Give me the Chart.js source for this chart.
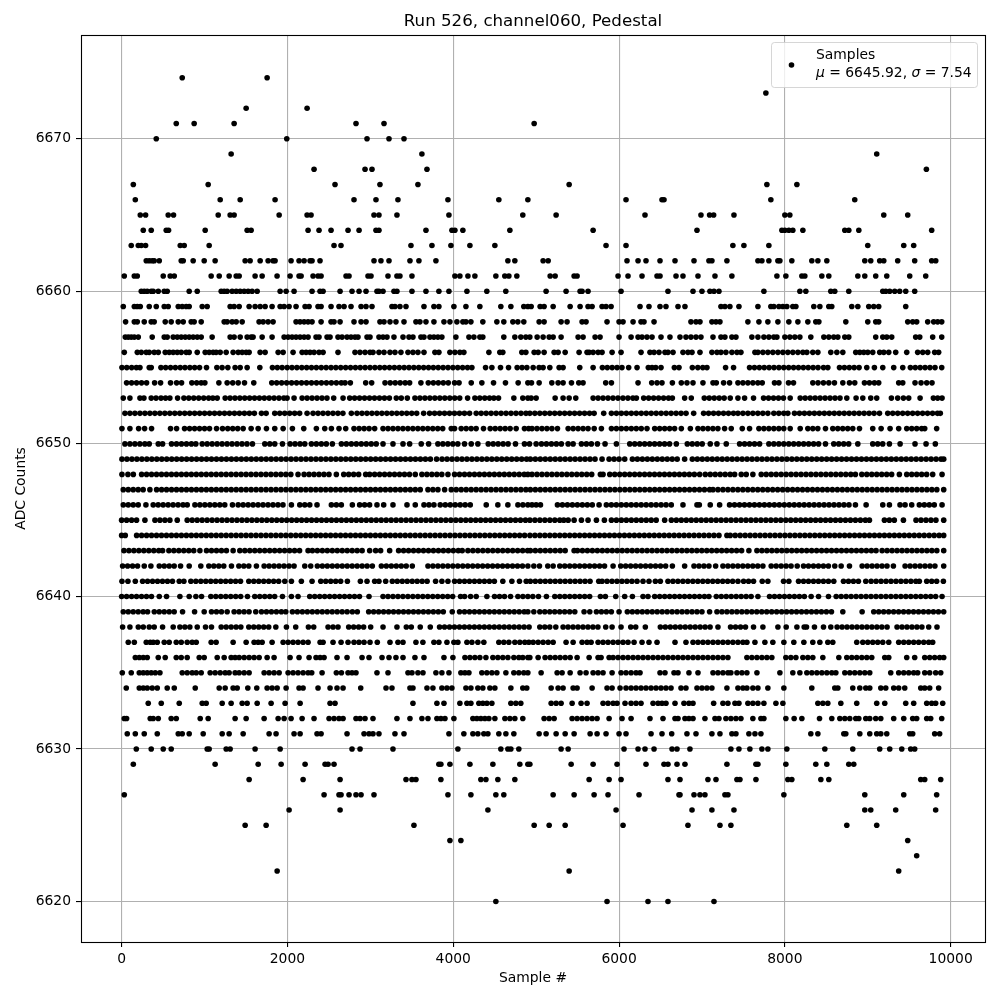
<!DOCTYPE html>
<html><head><meta charset="utf-8">
<style>html,body{margin:0;padding:0;background:#fff}#w{width:1000px;height:1000px;position:relative}</style>
<script src="https://cdn.jsdelivr.net/npm/chart.js@4"></script>
</head><body><div id="w"><canvas id="c" width="1000" height="1000"></canvas></div>
<script>
const chartTitle = "Run 526, channel060, Pedestal";
const xLabel = "Sample #";
const yLabel = "ADC Counts";
const xTicks = [0,2000,4000,6000,8000,10000];
const yTicks = [6620,6630,6640,6650,6660,6670];
const r6674=[731,1755];
const r6673=[7771];
const r6672=[1502,2237];
const r6671=[659,875,1357,2827,3165,4976];
const r6670=[418,1992,2960,3225,3406];
const r6669=[1321,3622,9108];
const r6668=[2321,2936,3020,3683,9707];
const r6667=[141,1044,2574,3116,3574,5398,7783,8145];
const r6666=[165,1189,1430,1851,2803,3068,3333,3936,4550,4900,6084,6518,6542,7831,8843];
const r6665=[225,289,562,626,1165,1309,1357,1900,2237,2285,3044,3104,3321,3948,4839,5241,6313,6988,7092,7141,7386,8000,8060,9193,9482];
const r6664=[261,357,538,566,1008,1514,1562,2249,2381,2526,2731,2864,3068,3104,3671,3984,4020,4116,4683,5687,6940,7964,8000,8048,8096,8217,8723,8771,8892,9771];
const r6663=[116,201,237,289,707,755,1056,2562,2646,3490,3743,3972,4201,4502,5843,6084,7373,7506,7807,9000,9434,9554];
const r6662=[297,333,369,393,454,719,743,863,996,1128,1490,1550,1671,1767,1827,1851,2044,2140,2201,2273,2297,2393,3044,3128,3225,3478,3586,3791,4659,4743,5084,5145,6096,6229,6325,6494,6675,6904,7084,7120,7301,7675,7723,7807,7916,7940,8084,8325,8398,8506,8964,9036,9144,9193,9361,9566,9771,9820];
const r6661=[32,153,189,502,586,635,1080,1177,1297,1382,1418,1610,1695,1875,2032,2140,2165,2309,2369,2406,2707,2743,2972,3008,3213,3321,3357,3502,4020,4080,4177,4261,4514,4622,4671,4767,5169,5229,5458,5494,5988,6108,6277,6458,6494,6687,6771,6952,7157,7361,7904,8012,8205,8241,8446,8530,8880,8964,9096,9229,9506,9699];
const r6660=[237,273,309,357,381,442,514,550,815,912,1201,1237,1273,1333,1382,1430,1478,1526,1574,1635,1912,1984,2080,2297,2393,2430,2635,2779,2864,2948,3080,3104,3153,3285,3321,3502,3671,3827,3948,4165,4405,4634,5120,5361,5530,5554,5626,6024,6590,6892,7000,7096,7145,7205,7747,8181,8253,8554,8602,8771,9181,9217,9265,9325,9385,9458,9566];
const r6659=[20,153,189,225,333,418,514,562,683,731,779,815,972,1032,1309,1357,1418,1538,1610,1671,1731,1815,1912,1960,2020,2104,2213,2261,2369,2406,2526,2622,2683,2767,2888,2948,3020,3261,3297,3357,3430,3647,3767,3827,4008,4153,4321,4574,4695,4851,4900,4940,5048,5096,5205,5410,5530,5626,5675,5795,5843,5904,6253,6361,6494,6566,6711,6795,7229,7277,7337,7446,7675,7831,7867,7928,7976,8024,8096,8133,8349,8422,8530,8566,8807,8880,9012,9072,9132,9458];
const r6658=[48,153,189,273,357,393,526,598,683,743,839,875,960,1237,1273,1333,1382,1454,1658,1707,1767,1827,2104,2152,2201,2249,2297,2406,2526,2562,2635,2803,2888,2948,3116,3165,3237,3309,3406,3550,3598,3671,3767,3888,3960,4044,4116,4153,4213,4357,4526,4610,4719,4779,4851,5036,5096,5301,5373,5554,5602,5855,6000,6048,6169,6265,6301,6422,6867,6928,6976,7120,7169,7217,7554,7687,7795,7916,8048,8157,8277,8373,8410,8735,9000,9096,9132,9482,9542,9590,9723,9795,9843,9892];
const r6657=[44,80,116,153,201,369,514,550,622,671,719,767,815,863,912,960,1092,1309,1357,1430,1514,1562,1586,1695,1815,1960,2008,2056,2104,2152,2201,2249,2345,2381,2478,2514,2610,2659,2719,2767,2815,2851,2960,2996,3104,3153,3201,3285,3394,3466,3514,3610,3647,3719,3767,3815,3863,4032,4189,4249,4321,4357,4610,4743,4815,4876,4924,5012,5084,5157,5205,5301,5506,5566,5711,5771,6000,6145,6229,6277,6337,6398,6506,6614,6735,6807,6867,6928,6988,7133,7229,7277,7361,7410,7602,7675,7747,7807,7867,7904,8000,8060,8120,8181,8313,8470,8530,8590,8639,8723,8771,9096,9181,9229,9289,9578,9627,9783,9892];
const r6656=[32,189,237,297,333,393,442,526,574,622,671,719,779,815,912,1008,1056,1104,1140,1189,1261,1345,1406,1454,1502,1538,1671,1731,1888,1948,2068,2177,2225,2273,2321,2381,2430,2610,2815,2875,2936,2996,3032,3104,3165,3237,3297,3369,3454,3514,3574,3647,3779,3827,3960,4020,4080,4128,4430,4562,4598,4827,4876,4976,5024,5096,5217,5265,5350,5518,5614,5639,5687,5747,5795,5916,6024,6265,6373,6422,6482,6554,6590,6651,6771,6831,6880,6976,7120,7181,7229,7289,7361,7422,7470,7639,7675,7735,7795,7855,7916,7976,8036,8096,8157,8217,8265,8337,8398,8554,8627,8699,8855,8904,8952,9000,9060,9144,9193,9253,9337,9470,9602,9663,9723,9807,9855];
const r6655=[4,62,121,178,221,333,357,474,531,590,648,707,764,823,881,940,1024,1149,1212,1281,1369,1430,1514,1667,1819,1878,1936,1997,2055,2114,2173,2232,2290,2349,2408,2467,2526,2584,2643,2702,2761,2820,2878,2937,2996,3055,3114,3172,3231,3290,3349,3408,3466,3525,3584,3643,3702,3760,3819,3878,3937,3996,4054,4113,4172,4225,4390,4466,4570,4667,4771,4830,4888,4964,5036,5084,5165,5277,5325,5526,5687,5799,5858,5917,5976,6035,6116,6217,6353,6398,6442,6506,6667,6723,6884,6950,7010,7060,7285,7381,7574,7633,7692,7751,7810,7869,7928,7987,8046,8105,8164,8223,8282,8341,8400,8466,8518,8659,8718,8777,8836,8895,8988,9080,9181,9313,9422,9514,9573,9632,9691,9750,9811,9892];
const r6654=[60,120,180,240,301,398,470,590,663,723,847,905,960,1004,1173,1273,1340,1406,1482,1594,1811,1870,1930,1990,2050,2110,2170,2230,2290,2350,2410,2470,2530,2590,2650,2695,2759,2944,3016,3177,3240,3300,3360,3420,3474,3610,3699,3760,3820,3880,3940,4016,4070,4217,4345,4486,4630,4783,4900,4944,5036,5189,5265,5325,5426,5514,5566,5839,5908,6229,6394,6458,6518,6643,6751,6819,6892,7012,7133,7173,7261,7333,7434,7494,7554,7614,7674,7727,7875,7928,8044,8104,8337,8400,8465,8530,8598,8699,8779,8843,8960,9020,9080,9132,9373,9422,9570,9643,9711,9775];
const r6653=[20,100,221,269,357,415,475,530,582,675,751,810,870,930,990,1050,1100,1153,1249,1308,1367,1426,1485,1544,1603,1662,1721,1780,1839,1898,1957,1996,2080,2177,2237,2297,2357,2417,2477,2558,2671,2751,2810,2870,2930,2990,3050,3110,3170,3230,3313,3373,3446,3538,3598,3658,3718,3778,3838,3898,3958,4018,4078,4173,4261,4320,4380,4438,4490,4546,4731,4839,4900,4940,5000,5229,5325,5398,5478,5687,5747,5807,5867,5927,5987,6047,6107,6167,6209,6297,6357,6417,6477,6537,6597,6643,6791,6871,7028,7088,7148,7208,7268,7341,7434,7514,7622,7743,7803,7863,7923,7983,8064,8185,8245,8305,8365,8425,8485,8545,8605,8665,8747,8859,8940,9036,9108,9285,9361,9430,9494,9631,9791,9843,9896];
const r6652=[40,100,160,221,281,341,401,461,521,581,641,701,761,821,881,941,1001,1061,1121,1181,1241,1301,1361,1421,1481,1541,1601,1687,1743,1847,1907,1967,2027,2087,2147,2237,2309,2369,2429,2489,2549,2609,2669,2771,2839,2899,2959,3019,3079,3139,3199,3259,3319,3379,3439,3499,3559,3643,3715,3775,3835,3895,3955,4015,4075,4135,4197,4277,4337,4397,4457,4517,4577,4637,4697,4757,4817,4877,4924,4984,5044,5104,5164,5224,5284,5344,5404,5464,5524,5584,5644,5699,5815,5908,5968,6028,6088,6148,6208,6268,6328,6388,6448,6508,6568,6628,6688,6748,6808,6900,7020,7080,7140,7200,7260,7320,7380,7434,7494,7554,7614,7674,7734,7795,7867,7927,7987,8036,8116,8176,8236,8296,8356,8416,8476,8536,8596,8656,8716,8776,8836,8896,8956,9016,9076,9141,9241,9301,9361,9421,9481,9541,9601,9661,9721,9781,9841,9875];
const r6651=[4,100,205,277,361,590,663,759,820,880,940,1000,1060,1145,1217,1280,1340,1400,1466,1562,1647,1747,1847,1948,2060,2197,2349,2450,2530,2622,2703,2803,2865,2925,2985,3052,3153,3213,3273,3333,3393,3453,3513,3573,3633,3693,3753,3813,3873,3976,4016,4096,4156,4216,4276,4365,4446,4506,4566,4626,4686,4759,4859,4910,4950,5010,5070,5130,5190,5257,5386,5446,5506,5566,5626,5700,5787,5908,5968,6028,6088,6148,6208,6268,6337,6430,6490,6550,6610,6670,6751,6860,6952,7012,7072,7132,7192,7273,7353,7486,7574,7687,7747,7807,7867,7927,7987,8064,8185,8277,8337,8397,8490,8578,8638,8698,8758,8819,8900,9060,9161,9269,9373,9470,9530,9590,9650,9687,9831];
const r6650=[40,100,160,220,280,333,442,494,602,662,722,782,842,895,972,1032,1092,1152,1212,1272,1332,1392,1452,1512,1578,1727,1787,1847,1940,2032,2092,2152,2209,2289,2349,2409,2469,2542,2651,2711,2771,2831,2891,2951,3011,3071,3153,3273,3394,3474,3614,3703,3815,3875,3935,3995,4055,4136,4217,4297,4422,4482,4542,4602,4662,4751,4859,4920,5000,5064,5124,5184,5244,5304,5386,5446,5546,5606,5666,5739,5831,5968,6129,6189,6249,6309,6369,6429,6489,6549,6609,6691,6823,6883,6943,7003,7100,7181,7293,7454,7514,7574,7634,7695,7807,7867,7927,7987,8047,8107,8167,8227,8287,8347,8407,8490,8590,8650,8710,8770,8880,9060,9120,9180,9261,9390,9570,9703,9815];
const r6649=[4,64,124,184,244,304,364,424,484,544,604,664,724,784,844,904,964,1024,1084,1144,1204,1264,1324,1384,1444,1504,1564,1624,1684,1744,1804,1864,1924,1984,2044,2104,2164,2224,2284,2344,2404,2464,2524,2584,2644,2704,2764,2824,2884,2944,3004,3064,3124,3184,3244,3304,3364,3424,3484,3544,3604,3664,3724,3799,3865,3925,3985,4045,4105,4165,4225,4285,4345,4405,4465,4525,4585,4645,4705,4765,4825,4885,4930,4990,5050,5110,5170,5230,5290,5350,5410,5470,5530,5590,5650,5710,5795,5880,5940,6000,6068,6161,6221,6281,6341,6401,6461,6521,6581,6641,6701,6791,6884,6944,7004,7064,7124,7184,7244,7304,7364,7424,7484,7544,7604,7664,7724,7784,7844,7904,7964,8024,8084,8144,8204,8264,8324,8384,8444,8504,8564,8624,8684,8744,8804,8864,8924,8984,9044,9104,9164,9224,9284,9344,9404,9464,9524,9584,9644,9704,9764,9824,9884,9916];
const r6648=[4,76,141,241,301,361,421,481,541,601,661,721,781,841,901,961,1021,1081,1141,1201,1261,1321,1381,1441,1501,1561,1621,1681,1741,1801,1861,1921,1981,2041,2128,2201,2261,2321,2381,2441,2501,2590,2679,2739,2799,2859,2944,2992,3052,3112,3172,3232,3292,3352,3412,3472,3542,3622,3682,3742,3802,3862,3936,4016,4076,4136,4196,4256,4316,4376,4436,4496,4556,4616,4676,4736,4796,4856,4900,4950,5010,5070,5130,5190,5250,5310,5370,5430,5490,5550,5610,5670,5775,5807,5888,5948,6008,6068,6128,6188,6248,6308,6368,6428,6488,6548,6608,6668,6728,6788,6848,6908,6972,7040,7100,7160,7220,7280,7340,7394,7474,7534,7614,7715,7775,7835,7895,7955,8015,8075,8135,8195,8255,8315,8375,8435,8495,8555,8615,8675,8735,8795,8851,8928,8988,9048,9108,9168,9228,9288,9381,9470,9530,9590,9650,9710,9783,9896];
const r6647=[20,80,140,200,260,341,422,482,542,602,662,722,782,842,902,962,1022,1082,1142,1202,1262,1322,1382,1442,1502,1562,1622,1682,1742,1802,1862,1922,1982,2042,2102,2162,2222,2282,2342,2402,2462,2522,2582,2642,2702,2762,2822,2882,2942,3002,3062,3122,3182,3242,3302,3362,3422,3482,3542,3602,3695,3755,3815,3896,3976,4036,4096,4156,4216,4276,4336,4396,4456,4516,4576,4636,4696,4756,4816,4876,4930,4990,5050,5110,5170,5230,5290,5350,5410,5470,5530,5590,5650,5710,5770,5830,5890,5950,6010,6070,6130,6190,6250,6310,6370,6430,6490,6550,6610,6670,6730,6790,6850,6910,6970,7030,7092,7133,7193,7253,7313,7373,7433,7493,7553,7613,7673,7733,7793,7853,7913,7973,8033,8093,8153,8213,8273,8333,8393,8453,8513,8573,8633,8693,8753,8813,8873,8933,8993,9053,9113,9173,9233,9293,9353,9413,9473,9533,9593,9653,9713,9773,9833,9916];
const r6646=[20,80,140,200,293,381,441,501,561,621,681,741,791,884,944,1004,1064,1124,1184,1244,1337,1406,1466,1526,1586,1646,1706,1766,1826,1886,1946,2048,2149,2209,2269,2357,2530,2590,2650,2783,2871,2931,2991,3080,3161,3273,3442,3542,3647,3707,3767,3843,3904,3964,4024,4084,4144,4205,4398,4538,4659,4780,4840,4900,4950,5000,5052,5257,5317,5377,5437,5497,5557,5617,5677,5759,5847,5907,5967,6027,6087,6147,6207,6267,6327,6387,6447,6507,6567,6630,6771,6940,6968,7100,7213,7333,7393,7453,7513,7573,7633,7693,7753,7813,7873,7933,7993,8053,8113,8173,8233,8293,8353,8413,8473,8533,8593,8653,8713,8773,8851,8980,9181,9261,9389,9450,9530,9622,9682,9742,9802,9896];
const r6645=[0,60,120,180,281,402,462,522,582,671,791,851,911,971,1031,1091,1151,1211,1271,1331,1391,1451,1511,1571,1631,1691,1751,1811,1871,1931,1991,2051,2111,2171,2231,2291,2351,2411,2471,2531,2591,2651,2711,2771,2831,2891,2951,3011,3071,3131,3191,3251,3311,3371,3431,3491,3551,3611,3671,3731,3791,3851,3911,3971,4031,4091,4151,4211,4271,4331,4391,4451,4511,4571,4631,4691,4751,4811,4871,4925,4985,5045,5105,5165,5225,5285,5333,5386,5458,5546,5626,5727,5823,5908,5968,6028,6088,6148,6208,6268,6328,6388,6448,6550,6631,6691,6751,6811,6871,6931,6991,7051,7111,7171,7231,7291,7351,7411,7471,7531,7591,7651,7711,7771,7831,7891,7951,8011,8071,8131,8191,8251,8311,8371,8431,8491,8551,8611,8671,8731,8791,8851,8911,8971,9020,9201,9260,9320,9430,9582,9642,9702,9762,9822,9916];
const r6644=[0,44,181,241,301,361,421,481,541,601,661,721,781,841,901,961,1021,1081,1141,1201,1261,1321,1381,1441,1501,1561,1621,1681,1741,1801,1861,1921,1981,2041,2101,2161,2221,2281,2341,2401,2461,2521,2581,2641,2701,2761,2821,2881,2941,3001,3061,3121,3181,3241,3301,3361,3421,3481,3541,3601,3661,3721,3781,3841,3901,3961,4021,4081,4141,4201,4261,4321,4381,4441,4501,4561,4621,4681,4741,4801,4861,4925,4985,5045,5105,5165,5225,5285,5345,5405,5465,5525,5585,5645,5705,5765,5825,5885,5945,6005,6065,6125,6185,6245,6305,6365,6425,6485,6545,6605,6665,6725,6785,6845,6905,6965,7025,7085,7145,7205,7301,7341,7401,7461,7521,7581,7641,7701,7761,7821,7881,7941,8001,8061,8121,8181,8241,8301,8361,8421,8481,8541,8601,8661,8721,8781,8841,8901,8961,9021,9081,9141,9201,9261,9321,9381,9441,9501,9561,9621,9681,9741,9801,9861,9916];
const r6643=[28,88,148,208,268,328,388,448,494,570,630,690,750,810,870,944,1024,1084,1144,1204,1264,1345,1426,1486,1546,1606,1666,1726,1786,1846,1906,1966,2026,2086,2146,2249,2301,2361,2421,2481,2541,2601,2661,2721,2781,2841,2901,2992,3064,3124,3233,3341,3401,3461,3521,3581,3641,3701,3761,3821,3881,3941,4001,4061,4108,4177,4237,4297,4357,4417,4477,4537,4597,4657,4717,4777,4837,4897,4930,4990,5050,5110,5170,5230,5290,5350,5458,5498,5558,5618,5678,5738,5798,5858,5918,5978,6038,6098,6158,6218,6278,6338,6398,6458,6518,6578,6638,6698,6758,6818,6878,6938,6998,7058,7118,7178,7238,7298,7358,7418,7478,7566,7663,7723,7783,7843,7903,7963,8023,8083,8143,8203,8263,8323,8383,8443,8503,8563,8623,8683,8743,8803,8863,8923,8983,9043,9100,9173,9233,9293,9353,9413,9473,9533,9593,9653,9713,9773,9833,9916];
const r6642=[12,72,132,192,273,353,454,514,574,634,711,815,955,1052,1112,1172,1232,1325,1414,1474,1534,1626,1719,1779,1839,1899,1959,2019,2080,2209,2281,2361,2421,2481,2541,2601,2661,2721,2781,2841,2901,2961,3024,3133,3193,3253,3313,3373,3433,3506,3695,3755,3815,3875,3935,3995,4055,4115,4175,4235,4295,4355,4415,4475,4535,4595,4655,4715,4775,4835,4900,4972,5040,5140,5205,5285,5345,5405,5465,5525,5585,5645,5705,5765,5825,5928,6020,6080,6140,6200,6260,6320,6380,6440,6500,6562,6643,6791,6904,6964,7024,7084,7165,7253,7313,7373,7433,7493,7553,7613,7673,7735,7835,7895,7955,8015,8075,8149,8225,8285,8345,8405,8465,8525,8602,8679,8779,8932,8992,9052,9112,9172,9232,9309,9450,9510,9570,9630,9690,9750,9810,9916];
const r6641=[4,76,165,253,313,373,433,493,553,613,695,751,835,895,955,1015,1075,1135,1195,1255,1315,1375,1434,1534,1594,1654,1714,1774,1834,1894,1968,2048,2168,2297,2402,2462,2522,2582,2642,2723,2880,2960,3052,3104,3185,3265,3325,3385,3445,3505,3565,3625,3685,3787,3863,3936,4016,4076,4136,4196,4256,4316,4376,4436,4496,4598,4707,4799,4880,4930,4990,5050,5110,5170,5230,5290,5350,5410,5470,5530,5590,5650,5755,5795,5855,5915,5975,6035,6095,6155,6217,6289,6361,6438,6498,6590,6650,6710,6770,6830,6890,6950,7010,7070,7130,7190,7250,7310,7370,7434,7502,7562,7622,7727,7795,7984,8048,8165,8225,8285,8345,8405,8465,8525,8590,8707,8767,8827,8887,8976,9040,9100,9160,9220,9280,9340,9400,9460,9520,9580,9622,9711,9771,9831,9912];
const r6640=[0,60,120,180,240,300,360,454,542,703,815,896,964,1076,1136,1196,1256,1316,1376,1436,1518,1606,1666,1726,1786,1846,1940,2048,2128,2269,2329,2389,2449,2509,2569,2629,2689,2749,2809,2869,2984,3153,3213,3273,3333,3393,3453,3513,3573,3633,3693,3753,3813,3873,3933,3993,4088,4137,4209,4277,4406,4498,4558,4618,4691,4780,4840,4900,4960,5028,5124,5225,5285,5345,5405,5465,5525,5585,5645,5775,5835,5960,6068,6161,6289,6349,6430,6490,6550,6610,6670,6730,6790,6850,6910,6970,7030,7084,7173,7233,7293,7353,7413,7473,7533,7593,7675,7815,7875,7935,7995,8055,8115,8175,8235,8317,8406,8526,8619,8679,8739,8799,8859,8919,8979,9039,9099,9159,9219,9279,9339,9399,9459,9519,9579,9639,9699,9759,9819,9896];
const r6639=[20,80,140,200,260,313,394,454,514,574,634,735,880,996,1084,1144,1204,1273,1357,1417,1477,1537,1618,1687,1747,1807,1867,1927,1980,2060,2120,2180,2240,2300,2360,2420,2480,2540,2600,2660,2720,2783,2843,2980,3040,3100,3160,3220,3280,3340,3400,3460,3520,3580,3640,3700,3760,3820,3880,3988,4076,4136,4196,4256,4316,4376,4436,4496,4556,4616,4676,4736,4796,4856,4900,4972,5044,5104,5164,5224,5284,5344,5404,5466,5578,5647,5727,5787,5847,5907,6000,6100,6160,6220,6280,6340,6400,6460,6520,6580,6640,6700,6760,6820,6880,6940,7000,7092,7181,7241,7301,7361,7421,7481,7541,7601,7661,7721,7781,7841,7901,7961,8021,8081,8141,8201,8261,8321,8381,8441,8501,8562,8699,8932,9072,9132,9192,9252,9312,9372,9432,9492,9552,9612,9672,9732,9792,9852,9916];
const r6638=[12,100,201,261,333,393,494,622,703,763,823,912,1012,1084,1201,1261,1321,1381,1438,1534,1594,1654,1714,1774,1860,1988,2100,2253,2317,2490,2550,2610,2739,2799,2859,2919,3004,3153,3321,3434,3494,3602,3723,3835,3895,3955,4015,4075,4135,4195,4255,4315,4375,4435,4495,4555,4615,4675,4735,4795,4855,4915,5044,5104,5164,5237,5325,5385,5445,5505,5565,5625,5685,5745,5839,5916,6024,6141,6201,6317,6498,6558,6618,6678,6738,6798,6858,6918,6978,7038,7098,7193,7345,7405,7465,7525,7622,7735,7916,8016,8145,8233,8261,8357,8466,8554,8630,8690,8750,8810,8870,8930,8990,9050,9110,9170,9233,9353,9413,9473,9533,9593,9653,9735,9835];
const r6637=[80,153,297,345,381,430,514,574,659,719,791,851,900,1080,1140,1345,1502,1598,1647,1695,1815,1948,2008,2068,2128,2189,2249,2394,2430,2550,2647,2731,2803,2863,2924,2996,3084,3237,3333,3394,3550,3634,3767,3827,3924,4008,4056,4165,4225,4297,4369,4550,4610,4671,4743,4803,4863,4912,4964,5024,5084,5145,5205,5361,5446,5554,5614,5663,5747,5807,5867,5928,5988,6048,6108,6181,6277,6361,6458,6675,6807,6892,6952,7012,7072,7133,7193,7253,7313,7373,7434,7494,7542,7639,7759,7855,7988,8108,8229,8337,8422,8518,8578,8867,8940,9000,9060,9120,9181,9253,9373,9434,9494,9554,9614,9675,9735,9783];
const r6636=[165,213,261,309,442,526,659,719,791,936,996,1153,1237,1321,1369,1418,1478,1538,1598,1659,1755,1839,2032,2140,2261,2345,2394,2442,2598,2719,2900,2984,3141,3225,3309,3394,3538,3647,3888,3996,4141,4201,4261,4321,4394,4478,4538,4598,4659,4731,4791,4839,4900,4924,5024,5108,5169,5229,5289,5350,5410,5494,5639,5747,5783,5880,5928,5988,6048,6108,6169,6229,6289,6349,6410,6470,6530,6590,6651,6711,6771,6831,6892,6952,7012,7072,7133,7193,7253,7313,7542,7602,7663,7723,7783,7843,8012,8072,8133,8217,8277,8337,8458,8651,8747,8807,8867,8928,8988,9048,9205,9253,9470,9566,9687,9747,9807,9867,9916];
const r6635=[8,116,213,261,309,357,406,462,731,791,851,900,960,1068,1128,1189,1249,1297,1369,1418,1478,1538,1719,1779,1839,1900,2008,2068,2128,2189,2249,2293,2418,2590,2651,2731,2779,2827,3080,3213,3454,3502,3574,3635,3791,3863,3948,4092,4141,4189,4345,4405,4466,4526,4635,4731,4791,4851,4900,5060,5253,5313,5410,5530,5602,5687,5747,5807,5916,6024,6084,6145,6205,6253,6494,6554,6663,6711,6843,6952,7133,7193,7253,7313,7349,7422,7482,7542,7663,7940,8096,8181,8265,8325,8386,8446,8506,8566,8615,8723,8783,8843,8904,8964,9024,9277,9373,9434,9494,9554,9602,9687,9747,9819,9880];
const r6634=[56,213,261,309,369,430,550,635,888,1177,1249,1345,1394,1522,1630,1755,1815,1876,1984,2140,2189,2369,2514,2598,2671,2884,3189,3261,3478,3514,3683,3755,3863,3924,3984,4153,4213,4297,4357,4442,4502,4695,4839,4887,5181,5265,5325,5446,5494,5675,5855,5916,6012,6084,6145,6205,6265,6325,6386,6446,6506,6566,6627,6747,6807,6940,7000,7060,7120,7301,7434,7494,7542,7614,7675,7795,7988,8325,8602,8639,8819,8904,8976,9024,9157,9217,9313,9373,9446,9639,9687,9747,9855];
const r6633=[321,478,695,972,1020,1213,1321,1454,1514,1635,1803,1972,2153,2514,2574,3514,3803,3888,4080,4165,4213,4309,4357,4406,4466,4695,4755,4815,5181,5241,5301,5434,5542,5614,5807,5867,5928,5976,6072,6145,6205,6265,6410,6470,6518,6566,6675,6783,6843,6892,7141,7253,7313,7398,7446,7554,7614,7675,7747,7892,7976,8398,8458,8518,8675,8867,9108,9205,9458,9554,9711,9771,9819,9904];
const r6632=[32,60,345,381,442,598,659,948,1044,1369,1502,1719,1888,1960,2044,2177,2321,2502,2562,2622,2671,2827,2876,2936,3032,3321,3478,3622,3695,3803,3851,3900,4008,4237,4285,4333,4382,4430,4502,4623,4683,4743,4839,5096,5157,5217,5434,5494,5554,5614,5675,5735,5880,6036,6145,6373,6530,6675,6711,6795,6843,6892,7036,7157,7205,7289,7349,7410,7470,7614,7711,7747,8012,8112,8205,8418,8566,8663,8723,8783,8855,8892,8976,9024,9096,9157,9313,9434,9542,9590,9711,9759,9892];
const r6631=[68,165,273,430,683,731,815,984,1213,1297,1466,1779,1863,2080,2153,2357,2406,2719,2924,2984,3032,3104,3297,3406,3948,4128,4237,4297,4369,4418,4550,4635,4731,5036,5120,5241,5350,5458,5651,5735,5843,6000,6084,6386,6518,6635,6819,6928,7120,7217,7361,7410,7566,7639,7711,8313,8398,8711,8735,8904,9024,9108,9157,9229,9506,9542,9807,9867];
const r6630=[177,357,502,598,1032,1056,1261,1309,1610,1912,2779,2876,3273,4056,4574,4659,4695,4791,5301,5386,6060,6229,6313,6422,6639,6699,6855,7349,7446,7578,7723,7795,8024,8482,8819,9144,9265,9410,9518,9566];
const r6629=[141,1128,1647,1924,2213,2454,2490,2562,3827,3851,3960,4201,4478,4803,4900,4924,5422,5687,5976,6325,6542,6590,6699,6795,7301,7651,7675,8012,8373,8506,8771,8831];
const r6628=[1538,2189,2635,3430,3502,3550,3851,4333,4394,4538,4743,5639,5880,6024,6590,6735,7072,7169,7422,7458,7651,8036,8084,8434,8530,9639,9687,9880];
const r6627=[32,2442,2622,2647,2743,2827,2888,3044,3936,4213,4514,4610,5205,5458,5699,5867,6241,6723,6735,6904,6976,7036,7277,7313,7988,8964,9434,9831];
const r6626=[2020,2635,4418,5964,6880,7120,7386,8964,9036,9337,9819];
const r6625=[1490,1743,3526,4976,5157,5350,6048,6831,7217,7349,8747,9108];
const r6624=[3960,4092,9482];
const r6623=[9590];
const r6622=[1876,5398,9373];
const r6620=[4514,5855,6349,6590,7145];
const levels=[6620,6622,6623,6624,6625,6626,6627,6628,6629,6630,6631,6632,6633,6634,6635,6636,6637,6638,6639,6640,6641,6642,6643,6644,6645,6646,6647,6648,6649,6650,6651,6652,6653,6654,6655,6656,6657,6658,6659,6660,6661,6662,6663,6664,6665,6666,6667,6668,6669,6670,6671,6672,6673,6674];
const rows=[r6620,r6622,r6623,r6624,r6625,r6626,r6627,r6628,r6629,r6630,r6631,r6632,r6633,r6634,r6635,r6636,r6637,r6638,r6639,r6640,r6641,r6642,r6643,r6644,r6645,r6646,r6647,r6648,r6649,r6650,r6651,r6652,r6653,r6654,r6655,r6656,r6657,r6658,r6659,r6660,r6661,r6662,r6663,r6664,r6665,r6666,r6667,r6668,r6669,r6670,r6671,r6672,r6673,r6674];
const legendLine1="Samples";
const legendMu="6645.92";
const legendSigma="7.54";

const points=[];
rows.forEach((r,i)=>r.forEach(x=>points.push({x:x,y:levels[i]})));

const font='"DejaVu Sans"';
const frame={id:'frame',
  afterLayout(ch){const a=ch.chartArea;ch.titleBlock.left=a.left;ch.titleBlock.right=a.right;},
  afterDatasetsDraw(ch){
    const a=ch.chartArea,c=ch.ctx;
    c.save();c.strokeStyle='#000';c.lineWidth=1.1;
    c.strokeRect(Math.round(a.left)+.5,Math.round(a.top)+.5,Math.round(a.width),Math.round(a.height));
    c.restore();
  }};
const legendBox={id:'legendBox',afterDraw(ch){
  const c=ch.ctx;c.save();
  const x=771.5,y=42,w=206,h=45,r=3;
  c.beginPath();c.roundRect(x,y+.5,w,h,r);
  c.fillStyle='rgba(255,255,255,0.8)';c.fill();
  c.strokeStyle='rgba(204,204,204,0.8)';c.lineWidth=1;c.stroke();
  c.fillStyle='#000';c.beginPath();c.arc(791.5,65,2.8,0,Math.PI*2);c.fill();
  c.textBaseline='alphabetic';c.textAlign='left';
  const reg='13.89px '+font,it='italic 13.89px '+font;
  let tx=816;const y1=59,y2=77;
  c.font=reg;c.fillText(legendLine1,tx,y1);
  const seg=(s,f)=>{c.font=f;c.fillText(s,tx,y2);tx+=c.measureText(s).width;};
  seg('μ',it);seg(' = '+legendMu+', ',reg);seg('σ',it);seg(' = '+legendSigma,reg);
  c.restore();
}};
new Chart(document.getElementById('c'),{
  type:'scatter',
  data:{datasets:[{label:legendLine1,data:points,showLine:false,pointRadius:2.8,pointHoverRadius:2.8,pointBorderWidth:0,pointBackgroundColor:'#000',backgroundColor:'#000',borderColor:'#000'}]},
  options:{
    responsive:false,animation:false,events:[],parsing:false,normalized:true,
    layout:{padding:{left:0,right:15,top:0,bottom:0}},
    plugins:{
      legend:{display:false},tooltip:{enabled:false},
      title:{display:true,text:chartTitle,color:'#000',font:{family:font,size:16.67,weight:'normal'},padding:{top:12,bottom:3}}
    },
    scales:{
      x:{type:'linear',min:-490,max:10414,
        afterBuildTicks(s){s.ticks=xTicks.map(v=>({value:v}));},
        afterFit(s){s.height=58;},
        grid:{color:'#b0b0b0',lineWidth:1.1,tickColor:'#000',tickLength:5,drawOnChartArea:true},
        border:{color:'#000',width:1},
        ticks:{color:'#000',font:{family:font,size:13.89},maxRotation:0,padding:4,callback:v=>String(v)},
        title:{display:true,text:xLabel,color:'#000',font:{family:font,size:13.89},padding:{top:4,bottom:13}}
      },
      y:{type:'linear',min:6617.35,max:6676.8,
        afterBuildTicks(s){s.ticks=yTicks.map(v=>({value:v}));},
        afterFit(s){s.width=81;},
        grid:{color:'#b0b0b0',lineWidth:1.1,tickColor:'#000',tickLength:5},
        border:{color:'#000',width:1},
        ticks:{color:'#000',font:{family:font,size:13.89},padding:5,callback:v=>String(v)},
        title:{display:true,text:yLabel,color:'#000',font:{family:font,size:13.89},padding:{top:13,bottom:4}}
      }
    }
  },
  plugins:[frame,legendBox]
});
</script></body></html>
